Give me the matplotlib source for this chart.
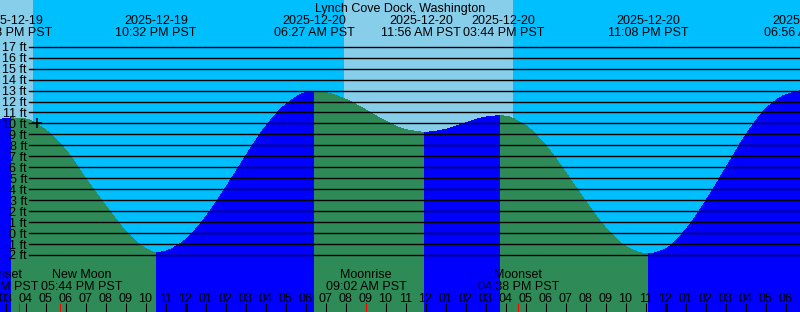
import numpy as np
import pandas as pd
import matplotlib
matplotlib.use("Agg")
import matplotlib.pyplot as plt
from matplotlib import transforms
from matplotlib.path import Path
from matplotlib.patches import PathPatch

plt.rcParams['font.family'] = ['Liberation Sans', 'DejaVu Sans']
plt.rcParams['font.size'] = 9

# ---------------- data ----------------
title = "Lynch Cove Dock, Washington"
view_start = "2025-12-19 14:43:30"
view_hours = 40
ref_midnight = "2025-12-20 00:00"

hourly_start = "2025-12-19 14:00"
hourly_ft = [10.1, 10.45, 10.4, 9.4, 7.6, 5.0, 2.5, 0.2, -1.4, -1.65,
             -0.6, 1.45, 4.1, 7.0, 9.7, 11.7, 12.8, 12.8, 12.2, 11.25,
             10.2, 9.45, 9.2, 9.45, 10.05, 10.57, 10.66, 9.8, 8.0, 5.55,
             2.9, 0.5, -1.2, -1.89, -1.45, 0.3, 2.9, 5.9, 8.9, 11.3,
             12.6, 13.0]

tide_event_times = ["2025-12-19 15:18", "2025-12-19 22:32", "2025-12-20 06:27",
                    "2025-12-20 11:56", "2025-12-20 15:44", "2025-12-20 23:08",
                    "2025-12-21 06:56"]
tide_event_ft = [10.5, -1.8, 12.9, 9.2, 10.7, -1.9, 13.0]
tide_event_kind = ["high", "low", "high", "low", "high", "low", "high"]

sun_times = ["2025-12-19 16:22", "2025-12-20 07:55", "2025-12-20 16:23"]
sun_kinds = ["Sunset", "Sunrise", "Sunset"]

moon_event_times = ["2025-12-19 15:41", "2025-12-19 17:44",
                    "2025-12-20 09:02", "2025-12-20 16:38"]
moon_event_names = ["Moonset", "New Moon", "Moonrise", "Moonset"]

now_time = "2025-12-19 16:34"
now_ft = 10.0

y_levels = list(range(-2, 18))

# ---------------- styling ----------------
NIGHT = "#00BFFF"
DAY = "#87CEEB"
FLOOD = "#0000FF"
EBB = "#2E8B57"
W, H = 800, 312

t0 = pd.Timestamp(ref_midnight)


def hrs(s):
    return (pd.Timestamp(s) - t0) / pd.Timedelta(hours=1)


xmin = hrs(view_start)
xmax = xmin + view_hours

fig = plt.figure(figsize=(W / 100, H / 100), dpi=100, facecolor=NIGHT)
ax = fig.add_axes([0, 0, 1, 1])
ax.set_xlim(xmin, xmax)
ax.set_ylim(-7.20, 21.26)
ax.axis('off')

# day / night background
edges = [xmin] + [hrs(s) for s in sun_times] + [xmax]
is_day = sun_kinds[0] == "Sunset"
for a, b in zip(edges[:-1], edges[1:]):
    if is_day:
        ax.axvspan(a, b, color=DAY, lw=0, zorder=0)
    is_day = not is_day

# tide curve (smooth Bezier path through the read values)
hourly_h = hrs(hourly_start) + np.arange(len(hourly_ft))
ev_h = np.array([hrs(s) for s in tide_event_times])
T = np.concatenate([hourly_h, ev_h])
V = np.concatenate([np.array(hourly_ft, float), np.array(tide_event_ft, float)])
order = np.argsort(T)
T, V = T[order], V[order]
ev_set = set(np.round(ev_h, 6))

n = len(T)
dt = np.diff(T)
d = np.diff(V) / dt
m = np.zeros(n)
m[0], m[-1] = d[0], d[-1]
for i in range(1, n - 1):
    if round(T[i], 6) in ev_set or d[i - 1] * d[i] <= 0:
        m[i] = 0.0
    else:
        w1 = 2 * dt[i] + dt[i - 1]
        w2 = dt[i] + 2 * dt[i - 1]
        m[i] = (w1 + w2) / (w1 / d[i - 1] + w2 / d[i])

BOTTOM = -20.0
idx_ev = [int(np.argmin(np.abs(T - e))) for e in ev_h]
seg_bounds = [0] + idx_ev + [n - 1]
kinds_next = tide_event_kind + [("low" if tide_event_kind[-1] == "high" else "high")]
for k in range(len(seg_bounds) - 1):
    a, b = seg_bounds[k], seg_bounds[k + 1]
    if b <= a:
        continue
    verts = [(T[a], BOTTOM), (T[a], V[a])]
    codes = [Path.MOVETO, Path.LINETO]
    for i in range(a, b):
        h = T[i + 1] - T[i]
        verts += [(T[i] + h / 3, V[i] + m[i] * h / 3),
                  (T[i + 1] - h / 3, V[i + 1] - m[i + 1] * h / 3),
                  (T[i + 1], V[i + 1])]
        codes += [Path.CURVE4] * 3
    verts += [(T[b], BOTTOM), (T[a], BOTTOM)]
    codes += [Path.LINETO, Path.CLOSEPOLY]
    col = FLOOD if kinds_next[k] == "high" else EBB
    ax.add_patch(PathPatch(Path(verts, codes), facecolor=col, edgecolor='none',
                           lw=0, antialiased=False, zorder=1))

# grid lines
for lev in y_levels:
    ax.axhline(lev, xmin=29 / W, xmax=1, color='black', lw=1.0, zorder=2)

# y labels
ylab_tr = transforms.offset_copy(
    transforms.blended_transform_factory(ax.transAxes, ax.transData),
    fig=fig, x=0, y=-4.5, units='dots')
for lev in y_levels:
    ax.text(27 / W, lev, f"{lev} ft", transform=ylab_tr, ha='right',
            va='baseline', color='black', zorder=4)

# now marker
ax.plot([hrs(now_time)], [now_ft], marker='+', ms=7, mew=1.1, color='black', zorder=4)


def yf(px):
    return 1 - px / H


tr = transforms.blended_transform_factory(ax.transData, fig.transFigure)

fig.text(0.5, yf(12.3), title, ha='center', va='baseline', color='black')

# top labels: tide events
top_groups = []
for s in tide_event_times:
    ts = pd.Timestamp(s)
    h = hrs(s)
    t1 = ax.text(h, yf(24), ts.strftime("%Y-%m-%d"), transform=tr, ha='center',
                 va='baseline', zorder=5)
    t2 = ax.text(h, yf(36), ts.strftime("%I:%M %p") + " PST", transform=tr,
                 ha='center', va='baseline', zorder=5)
    top_groups.append((h, [t1, t2]))

# bottom labels: moon events
bot_groups = []
for s, name in zip(moon_event_times, moon_event_names):
    ts = pd.Timestamp(s)
    h = hrs(s)
    t1 = ax.text(h, yf(278.3), name, transform=tr, ha='center', va='baseline', zorder=5)
    t2 = ax.text(h, yf(290), ts.strftime("%I:%M %p") + " PST", transform=tr,
                 ha='center', va='baseline', zorder=5)
    bot_groups.append((h, [t1, t2]))

# hour ticks & labels
tick_tr = ax.get_xaxis_transform()
hour_marks = np.arange(np.ceil(xmin), np.floor(xmax) + 1)
for h in hour_marks:
    ts = t0 + pd.Timedelta(hours=float(h))
    lw = 2.2 if ts.hour == 0 else 0.75
    ax.vlines(h, 0, 9 / H, transform=tick_tr, color='black', lw=lw, zorder=4)
    ax.text(h, yf(301.7), ts.strftime("%I"), transform=tr, ha='center',
            va='baseline', zorder=5)
for s in moon_event_times:
    ax.vlines(hrs(s), 0, 9 / H, transform=tick_tr, color='red', lw=0.75, zorder=4)


def spread(groups, gap=2.0):
    fig.canvas.draw()
    r = fig.canvas.get_renderer()
    items = []
    for h, texts in groups:
        w = max(t.get_window_extent(r).width for t in texts)
        cx = ax.transData.transform((h, 0))[0]
        items.append([cx, w, texts])
    items.sort(key=lambda it: it[0])
    for _ in range(200):
        moved = False
        for a, b in zip(items, items[1:]):
            ov = (a[0] + a[1] / 2 + gap) - (b[0] - b[1] / 2)
            if ov > 0.01:
                a[0] -= ov / 2
                b[0] += ov / 2
                moved = True
        if not moved:
            break
    inv = ax.transData.inverted()
    for cx, w, texts in items:
        h = inv.transform((cx, 0))[0]
        for t in texts:
            t.set_x(h)


spread(top_groups)
spread(bot_groups)

fig.savefig("out.png", dpi=100, facecolor=NIGHT)
